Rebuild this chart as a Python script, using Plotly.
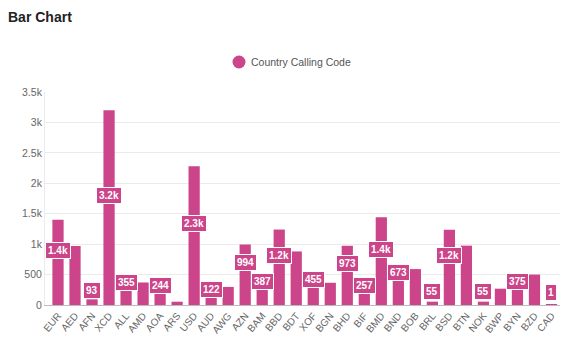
import plotly.graph_objects as go

categories = ["EUR", "AED", "AFN", "XCD", "ALL", "AMD", "AOA", "ARS", "USD", "AUD",
              "AWG", "AZN", "BAM", "BBD", "BDT", "XOF", "BGN", "BHD", "BIF", "BMD",
              "BND", "BOB", "BRL", "BSD", "BTN", "NOK", "BWP", "BYN", "BZD", "CAD"]
values = [1400, 970, 93, 3200, 355, 370, 244, 54, 2280, 122,
          297, 994, 387, 1240, 880, 455, 365, 973, 257, 1440,
          673, 590, 55, 1235, 975, 55, 268, 375, 500, 1]
# labels hidden in the reference because of overlap
hidden_labels = ["AED", "AMD", "ARS", "AWG", "BDT", "BGN", "BOB", "BTN", "BWP", "BZD"]
y_ticks = [0, 500, 1000, 1500, 2000, 2500, 3000, 3500]
y_tick_text = ["0", "500", "1k", "1.5k", "2k", "2.5k", "3k", "3.5k"]
series_name = "Country Calling Code"

COLOR = "#cc4489"
FONT = "Liberation Sans, Arial, sans-serif"


def fmt(v):
    if v >= 1000:
        return f"{v/1000:.1f}k"
    return str(v)


fig = go.Figure()
fig.add_trace(go.Bar(
    x=categories, y=values, name=series_name,
    marker=dict(color=COLOR, line=dict(width=0)),
    showlegend=False, hoverinfo="x+y",
))

for c, v in zip(categories, values):
    if c in hidden_labels:
        continue
    fig.add_annotation(
        x=c, y=v / 2, yshift=12, text=f"<b>{fmt(v)}</b>", showarrow=False,
        font=dict(family=FONT, size=10, color="white"),
        bgcolor=COLOR, bordercolor="white", borderwidth=1, borderpad=2,
    )

# legend (circle + text), centred above the plot
fig.add_shape(type="circle", xref="paper", yref="paper",
              xsizemode="pixel", ysizemode="pixel",
              xanchor=0.3767, yanchor=1.1408, x0=-6.5, x1=6.5, y0=-6.5, y1=6.5,
              fillcolor=COLOR, line=dict(width=0))
fig.add_annotation(xref="paper", yref="paper", x=0.396, y=1.1408,
                   xanchor="left", yanchor="middle", showarrow=False,
                   text=series_name, font=dict(family=FONT, size=10.5, color="#555"))

fig.update_layout(
    width=570, height=356,
    margin=dict(l=37, r=18, t=84, b=59, autoexpand=False),
    paper_bgcolor="white", plot_bgcolor="white",
    font=dict(family=FONT, size=10, color="#666"),
    title=dict(text="<b>Bar Chart</b>", x=0, xanchor="left", y=0.975, yanchor="middle",
               font=dict(family=FONT, size=14, color="#222")),
    showlegend=False,
    bargap=0.34,
)
fig.update_xaxes(
    tickangle=-50, tickfont=dict(size=10, color="#666"), showgrid=False,
    showline=True, linecolor="#bbb", linewidth=1, ticks="",
)
fig.update_yaxes(
    range=[0, 3500], tickvals=y_ticks, ticktext=y_tick_text,
    tickfont=dict(size=10.5, color="#666"),
    showgrid=True, gridcolor="#ebebeb", gridwidth=1,
    zeroline=False, showline=True, linecolor="#ebebeb", ticks="",
)

fig.write_html("out.html")
